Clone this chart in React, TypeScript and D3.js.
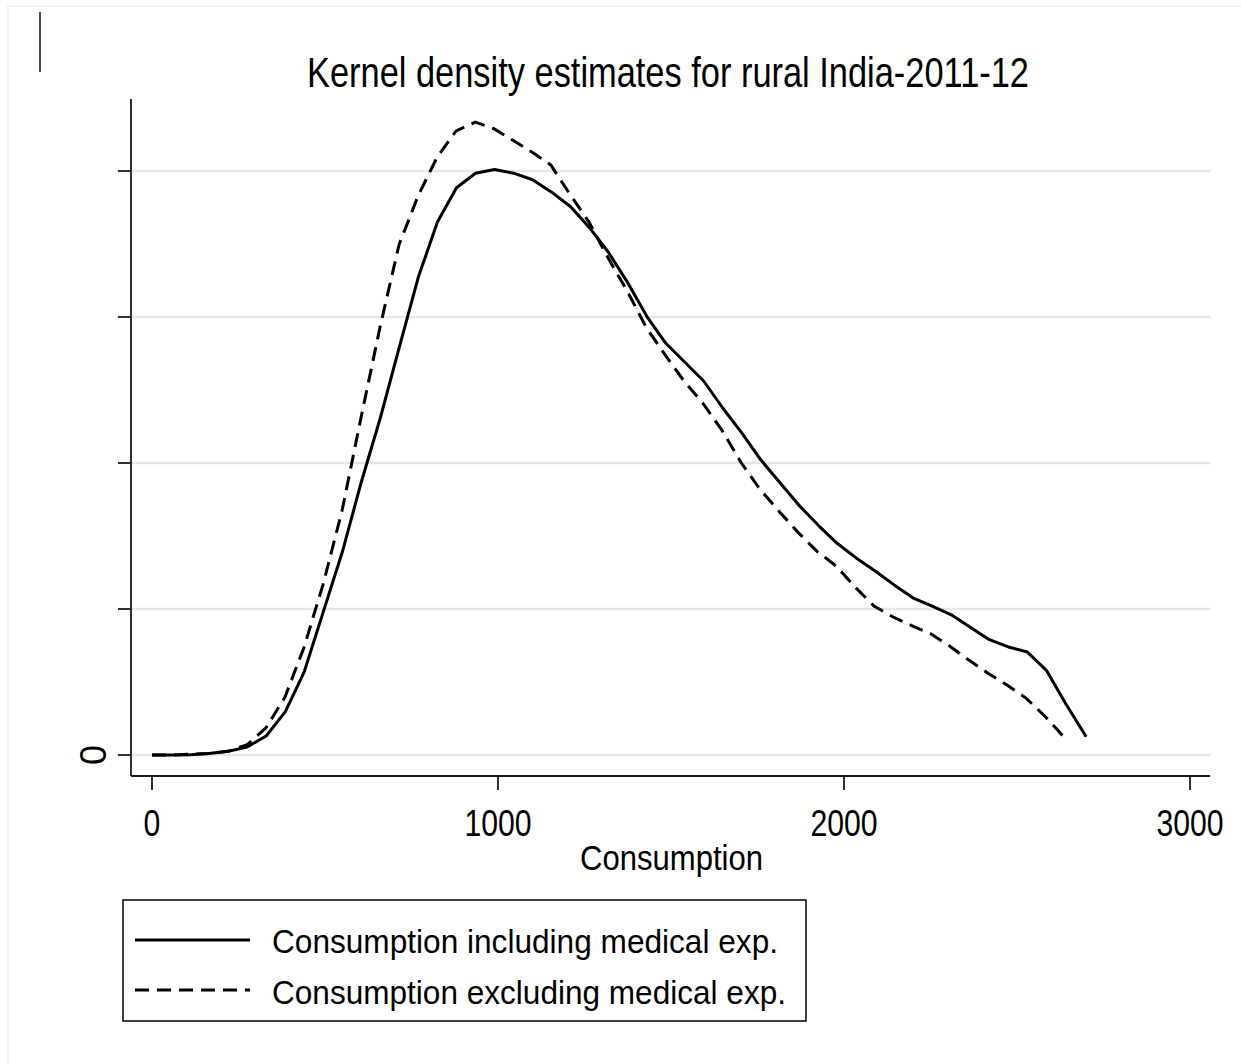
import React from "react";
import * as d3 from "d3";

// Kernel density of monthly per-capita consumption, rural India 2011-12
const inclX = [0, 55, 110, 165, 220, 275, 330, 385, 440, 495, 550, 605, 660, 715, 770, 825, 880, 935, 990, 1045, 1100, 1155, 1210, 1265, 1320, 1375, 1430, 1485, 1540, 1595, 1650, 1705, 1760, 1815, 1870, 1925, 1980, 2035, 2090, 2145, 2200, 2255, 2310, 2365, 2420, 2475, 2530, 2585, 2640, 2700];
const inclDensity = [0, 0, 0.004, 0.02, 0.05, 0.11, 0.26, 0.59, 1.14, 1.96, 2.78, 3.74, 4.62, 5.59, 6.55, 7.30, 7.77, 7.97, 8.02, 7.97, 7.88, 7.71, 7.51, 7.22, 6.88, 6.47, 6.01, 5.64, 5.38, 5.12, 4.75, 4.41, 4.04, 3.73, 3.42, 3.15, 2.90, 2.70, 2.52, 2.33, 2.15, 2.04, 1.92, 1.75, 1.58, 1.48, 1.41, 1.16, 0.71, 0.25];

const exclX = [0, 55, 110, 165, 220, 275, 329, 384, 439, 494, 549, 604, 659, 714, 769, 824, 879, 934, 988, 1043, 1098, 1153, 1208, 1263, 1318, 1373, 1428, 1483, 1538, 1592, 1647, 1702, 1757, 1812, 1867, 1922, 1977, 2032, 2087, 2142, 2197, 2251, 2306, 2361, 2416, 2471, 2526, 2581, 2633];
const exclDensity = [0, 0, 0.01, 0.02, 0.05, 0.14, 0.37, 0.79, 1.47, 2.33, 3.34, 4.62, 5.86, 6.99, 7.66, 8.19, 8.55, 8.67, 8.58, 8.42, 8.26, 8.08, 7.68, 7.30, 6.81, 6.36, 5.86, 5.48, 5.12, 4.82, 4.45, 4.01, 3.64, 3.34, 3.05, 2.79, 2.59, 2.30, 2.04, 1.89, 1.77, 1.66, 1.49, 1.30, 1.12, 0.96, 0.78, 0.53, 0.26];

// density values above are in units of 1e-4
const DENSITY_UNIT = 1e-4;

const xTicks = [0, 1000, 2000, 3000];
const yTicks = [0, 0.0002, 0.0004, 0.0006, 0.0008];
const yTickLabels = ["0"];

const titleText = "Kernel density estimates for rural India-2011-12";
const xAxisTitle = "Consumption";
const seriesNames = ["Consumption including medical exp.", "Consumption excluding medical exp."];

const FONT = "'Liberation Sans', Arial, Helvetica, sans-serif";
const DASH = "14 8";

export default function App() {
  const x = d3.scaleLinear().domain([0, 3000]).range([152, 1190]);
  const y = d3.scaleLinear().domain([0, 0.0008]).range([755, 171]);

  const line = d3
    .line<[number, number]>()
    .x((d) => x(d[0]))
    .y((d) => y(d[1] * DENSITY_UNIT));

  const incl: [number, number][] = inclX.map((v, i) => [v, inclDensity[i]]);
  const excl: [number, number][] = exclX.map((v, i) => [v, exclDensity[i]]);

  const plotLeft = 131;
  const plotRight = 1210;
  const plotTop = 99;
  const plotBottom = 776;
  const axisColor = "#1a1a1a";

  return (
    <div style={{ position: "absolute", left: 0, top: 0 }}>
      <svg width={1241} height={1064} style={{ display: "block", background: "#fff" }}>
        {/* outer frame */}
        <rect x={8} y={6} width={1260} height={1100} fill="none" stroke="#eeeeee" strokeWidth={1.5} />
        <line x1={40} x2={40} y1={12} y2={72} stroke="#222" strokeWidth={1.6} />

        <text
          x={307}
          y={87}
          fontFamily={FONT}
          fontSize={43}
          textLength={722}
          lengthAdjust="spacingAndGlyphs"
          fill="#000"
        >
          {titleText}
        </text>

        {/* grid */}
        {yTicks.map((t) => (
          <line key={"g" + t} x1={plotLeft} x2={plotRight} y1={y(t)} y2={y(t)} stroke="#e6e6e6" strokeWidth={2.5} />
        ))}

        {/* axes */}
        <line x1={plotLeft} x2={plotLeft} y1={plotTop} y2={plotBottom} stroke={axisColor} strokeWidth={1.8} />
        <line x1={plotLeft} x2={plotRight} y1={plotBottom} y2={plotBottom} stroke={axisColor} strokeWidth={1.8} />
        {yTicks.map((t) => (
          <line key={"yt" + t} x1={118} x2={plotLeft} y1={y(t)} y2={y(t)} stroke={axisColor} strokeWidth={1.8} />
        ))}
        {yTickLabels.map((lab, i) => (
          <text
            key={"yl" + i}
            transform={`translate(${106},${y(yTicks[i])}) rotate(-90)`}
            textAnchor="middle"
            fontFamily={FONT}
            fontSize={36}
            fill="#000"
          >
            {lab}
          </text>
        ))}
        {xTicks.map((t) => (
          <g key={"xt" + t}>
            <line x1={x(t)} x2={x(t)} y1={plotBottom} y2={790} stroke={axisColor} strokeWidth={1.8} />
            <text
              x={x(t)}
              y={836}
              textAnchor="middle"
              fontFamily={FONT}
              fontSize={36}
              textLength={String(t).length * 16.8}
              lengthAdjust="spacingAndGlyphs"
              fill="#000"
            >
              {t}
            </text>
          </g>
        ))}
        <text
          x={580}
          y={870}
          fontFamily={FONT}
          fontSize={35}
          textLength={183}
          lengthAdjust="spacingAndGlyphs"
          fill="#000"
        >
          {xAxisTitle}
        </text>

        {/* density curves */}
        <path d={line(incl) ?? ""} fill="none" stroke="#000" strokeWidth={3} strokeLinejoin="round" />
        <path d={line(excl) ?? ""} fill="none" stroke="#000" strokeWidth={3} strokeDasharray={DASH} />

        {/* legend */}
        <rect x={123} y={900} width={683} height={121} fill="#fff" stroke="#000" strokeWidth={1.5} />
        <line x1={135} x2={250} y1={940} y2={940} stroke="#000" strokeWidth={3} />
        <line x1={135} x2={250} y1={990} y2={990} stroke="#000" strokeWidth={3} strokeDasharray={DASH} />
        <text x={272} y={953} fontFamily={FONT} fontSize={34} textLength={506} lengthAdjust="spacingAndGlyphs" fill="#000">
          {seriesNames[0]}
        </text>
        <text x={272} y={1004} fontFamily={FONT} fontSize={34} textLength={514} lengthAdjust="spacingAndGlyphs" fill="#000">
          {seriesNames[1]}
        </text>
      </svg>
    </div>
  );
}
